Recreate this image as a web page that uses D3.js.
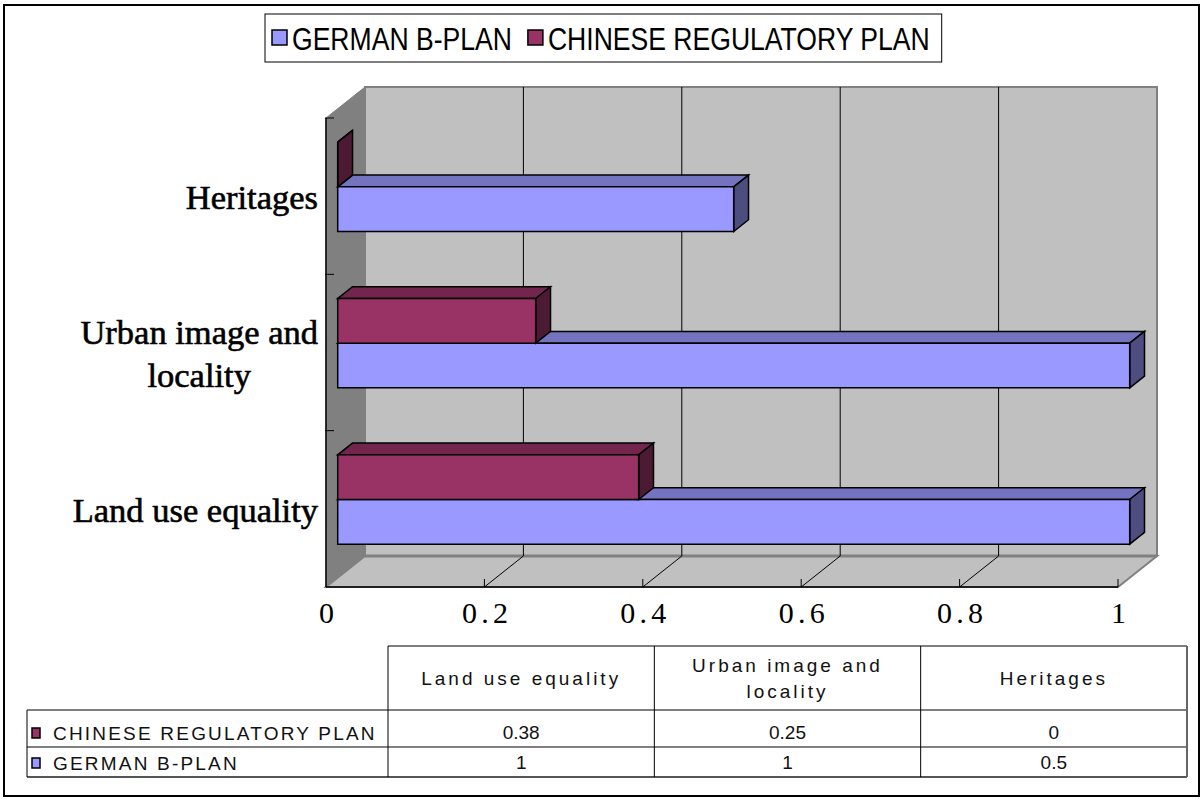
<!DOCTYPE html>
<html>
<head>
<meta charset="utf-8">
<script src="https://cdn.jsdelivr.net/npm/d3@7"></script>
<style>
  body { margin: 0; background: #fff; }
  svg { display: block; }
</style>
</head>
<body>
<script>
// ---- data ----
const categories = ["Land use equality", "Urban image and locality", "Heritages"];
const categoryLabelLines = [["Land use equality"], ["Urban image and", "locality"], ["Heritages"]];
const seriesNames = ["GERMAN B-PLAN", "CHINESE REGULATORY PLAN"];
const germanValues = [1, 1, 0.5];
const chineseValues = [0.38, 0.25, 0];
const valueTicks = [0, 0.2, 0.4, 0.6, 0.8, 1];
const tableRowOrder = ["CHINESE REGULATORY PLAN", "GERMAN B-PLAN"];

const seriesValues = {
  "GERMAN B-PLAN": germanValues,
  "CHINESE REGULATORY PLAN": chineseValues
};
const seriesColors = {
  "GERMAN B-PLAN": { front: "#9999ff", top: "#7373bf", side: "#4d4d80" },
  "CHINESE REGULATORY PLAN": { front: "#993366", top: "#73264d", side: "#4d1a33" }
};

const W = 1204, H = 799;
const svg = d3.select("body").append("svg").attr("width", W).attr("height", H);

// chart frame
svg.append("rect")
  .attr("x", 4).attr("y", 5).attr("width", 1195).attr("height", 791)
  .attr("fill", "#fff").attr("stroke", "#000").attr("stroke-width", 2);

// ---- 3D plot geometry ----
const DX = 39, DY = 31;          // full depth offset of the plot box
const Z0 = 0.3, Z1 = 0.68;       // depth span occupied by the bars
const x = d3.scaleLinear().domain([0, 1]).range([326, 1118]);
const y = d3.scaleBand().domain(categories).range([587, 118]);
const inner = d3.scaleBand().domain(seriesNames)
  .range([y.bandwidth(), 0]).paddingInner(0).paddingOuter(0.75);

const P = (px, py, z) => [px + z * DX, py - z * DY];
const path = pts => "M" + pts.map(p => p[0].toFixed(2) + "," + p[1].toFixed(2)).join("L") + "Z";
const line = (a, b) => "M" + a.join(",") + "L" + b.join(",");

const yTop = 118, yBot = 587;
const x0 = x(0), x1 = x(1);
const plot = svg.append("g");

// back wall
plot.append("path")
  .attr("d", path([P(x0, yTop, 1), P(x1, yTop, 1), P(x1, yBot, 1), P(x0, yBot, 1)]))
  .attr("fill", "#c0c0c0").attr("stroke", "#808080").attr("stroke-width", 2);
// left wall
plot.append("path")
  .attr("d", path([P(x0, yTop, 0), P(x0, yTop, 1), P(x0, yBot, 1), P(x0, yBot, 0)]))
  .attr("fill", "#808080").attr("stroke", "#808080").attr("stroke-width", 1);
// floor
plot.append("path")
  .attr("d", path([P(x0, yBot, 0), P(x1, yBot, 0), P(x1, yBot, 1), P(x0, yBot, 1)]))
  .attr("fill", "#c0c0c0").attr("stroke", "#808080").attr("stroke-width", 2);
plot.append("path")
  .attr("d", line(P(x0, yBot, 1), P(x1, yBot, 1)))
  .attr("stroke", "#808080").attr("stroke-width", 3);

// gridlines on back wall and floor
const inside = valueTicks.filter(t => t > 0 && t < 1);
plot.selectAll(".gridBack").data(inside).join("path")
  .attr("d", t => line(P(x(t), yTop, 1), P(x(t), yBot, 1)))
  .attr("stroke", "#000").attr("stroke-width", 1);
plot.selectAll(".gridFloor").data(inside).join("path")
  .attr("d", t => line(P(x(t), yBot, 0), P(x(t), yBot, 1)))
  .attr("stroke", "#000").attr("stroke-width", 1);

// axis lines
plot.append("path").attr("d", line([x0, yTop], [x0, yBot]))
  .attr("stroke", "#000").attr("stroke-width", 1.5);
plot.append("path").attr("d", line([x0, yBot], [x1, yBot]))
  .attr("stroke", "#000").attr("stroke-width", 1.5);
// value tick marks (pointing into the floor)
plot.selectAll(".vtick").data(valueTicks.filter(t => t > 0)).join("path")
  .attr("d", t => line([x(t), yBot], [x(t), yBot - 8]))
  .attr("stroke", "#000").attr("stroke-width", 1);
// category tick marks
const bounds = categories.map(c => y(c)).filter(v => v < yBot - 1);
plot.selectAll(".ctick").data(bounds).join("path")
  .attr("d", v => line([x0 - 1, v], [x0 + 8, v]))
  .attr("stroke", "#000").attr("stroke-width", 1);

// ---- bars ----
const barsG = plot.append("g")
  .attr("stroke", "#000").attr("stroke-width", 1.5).attr("stroke-linejoin", "miter");
const order = categories.map((c, i) => i).reverse();   // top category first
order.forEach(ci => {
  const cat = categories[ci];
  seriesNames.forEach(s => {
    const v = seriesValues[s][ci];
    const t = y(cat) + inner(s);
    const b = t + inner.bandwidth();
    const xv = x(v);
    const col = seriesColors[s];
    const g = barsG.append("g");
    g.append("path")
      .attr("d", path([P(x0, t, Z0), P(xv, t, Z0), P(xv, t, Z1), P(x0, t, Z1)]))
      .attr("fill", col.top);
    g.append("path")
      .attr("d", path([P(xv, t, Z0), P(xv, t, Z1), P(xv, b, Z1), P(xv, b, Z0)]))
      .attr("fill", col.side);
    g.append("path")
      .attr("d", path([P(x0, t, Z0), P(xv, t, Z0), P(xv, b, Z0), P(x0, b, Z0)]))
      .attr("fill", col.front);
  });
});

// ---- value axis labels ----
const axis = d3.axisBottom(x).tickValues(valueTicks).tickFormat(d3.format("")).tickSize(0).tickPadding(15);
const axG = svg.append("g").attr("transform", `translate(0,${yBot})`).call(axis);
axG.select(".domain").remove();
axG.selectAll("text")
  .attr("font-family", "'Liberation Serif', 'Times New Roman', serif")
  .attr("font-size", 30).attr("fill", "#000")
  .each(function () {
    const el = d3.select(this);
    if (el.text().length > 1) el.attr("textLength", 46).attr("lengthAdjust", "spacing");
  });

// ---- category labels ----
const catFont = 34.5, catLineH = 43, labelRight = 318;
const catG = svg.append("g")
  .attr("font-family", "'Liberation Serif', 'Times New Roman', serif")
  .attr("font-size", catFont).attr("fill", "#000")
  .attr("stroke", "#000").attr("stroke-width", 0.6);
categories.forEach((c, i) => {
  const lines = categoryLabelLines[i];
  const cy = y(c) + y.bandwidth() / 2 + 1.5;
  const g = catG.append("g");
  const texts = lines.map((ln, k) => g.append("text")
    .attr("y", cy + catFont * 0.33 + (k - (lines.length - 1) / 2) * catLineH)
    .attr("text-anchor", "middle")
    .text(ln));
  const bw = d3.max(texts, tx => tx.node().getComputedTextLength());
  texts.forEach(tx => tx.attr("x", labelRight - bw / 2));
});

// ---- legend ----
const legG = svg.append("g");
const legFont = 32, legSquash = 0.83;
let lx = 272;
seriesNames.forEach((s, i) => {
  legG.append("rect").attr("x", lx).attr("y", 30).attr("width", 15).attr("height", 15)
    .attr("fill", seriesColors[s].front).attr("stroke", "#000").attr("stroke-width", 1.5);
  const tx = legG.append("text")
    .attr("x", lx + 20).attr("y", 50)
    .attr("font-family", "'Liberation Sans', Arial, sans-serif")
    .attr("font-size", legFont).attr("fill", "#000")
    .text(s);
  const w = tx.node().getComputedTextLength() * legSquash;
  tx.attr("textLength", w).attr("lengthAdjust", "spacingAndGlyphs");
  lx += 20 + w + 16;
});
legG.insert("rect", ":first-child")
  .attr("x", 265).attr("y", 14).attr("width", lx - 16 + 12 - 265).attr("height", 48)
  .attr("fill", "#fff").attr("stroke", "#000").attr("stroke-width", 1);

// ---- data table ----
const col = d3.scaleBand().domain(categories).range([388, 1187]);
const tLeft = 27, tHeadTop = 646, tHeadBot = 710;
const rowY = d3.scaleOrdinal().domain(tableRowOrder).range([[710, 747], [747, 777]]);
const tab = svg.append("g").attr("stroke", "#000").attr("stroke-width", 1).attr("fill", "none");
const tableBottom = 777;
tab.append("path").attr("d", line([388, tHeadTop], [1187, tHeadTop]));
[tHeadBot, 747].forEach(v => tab.append("path").attr("d", line([tLeft, v], [1187, v])));
tab.append("path").attr("d", line([tLeft, tableBottom], [1187, tableBottom])).attr("stroke", "#555").attr("stroke-width", 2);
tab.append("path").attr("d", line([tLeft, tHeadBot], [tLeft, tableBottom]));
categories.forEach(c => tab.append("path").attr("d", line([col(c), tHeadTop], [col(c), tableBottom])));
tab.append("path").attr("d", line([1187, tHeadTop], [1187, tableBottom])).attr("stroke", "#666").attr("stroke-width", 2);

const tFont = "'Liberation Sans', Arial, sans-serif";
const tText = svg.append("g").attr("font-family", tFont).attr("font-size", 19).attr("fill", "#111");
// header labels
categories.forEach((c, i) => {
  const lines = categoryLabelLines[i];
  const cx = col(c) + col.bandwidth() / 2;
  const cy = (tHeadTop + tHeadBot) / 2;
  lines.forEach((ln, k) => {
    tText.append("text")
      .attr("x", cx).attr("y", cy + 7 + (k - (lines.length - 1) / 2) * 26)
      .attr("text-anchor", "middle").attr("letter-spacing", 3)
      .text(ln);
  });
});
// row labels and values
tableRowOrder.forEach(s => {
  const [r0, r1] = rowY(s);
  tText.append("rect").attr("x", 32).attr("y", r1 - 19).attr("width", 8).attr("height", 10)
    .attr("fill", seriesColors[s].front).attr("stroke", "#000").attr("stroke-width", 1.5);
  tText.append("text").attr("x", 53).attr("y", r1 - 7).attr("letter-spacing", 2.2).text(s);
  categories.forEach((c, i) => {
    tText.append("text")
      .attr("x", col(c) + col.bandwidth() / 2).attr("y", r1 - 8)
      .attr("text-anchor", "middle")
      .text(String(seriesValues[s][i]));
  });
});
</script>
</body>
</html>
